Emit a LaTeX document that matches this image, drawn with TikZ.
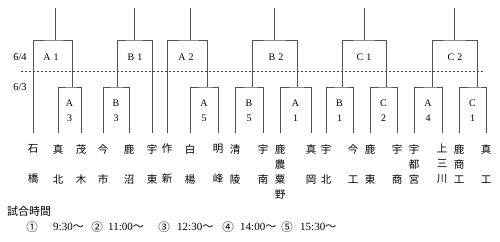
\documentclass[tikz,border=0pt]{standalone}
\usepackage{fontspec}
\setmainfont{Liberation Serif}
\newfontfamily\jp{Noto Sans CJK JP}
\newcommand\leafnode[3]{%
  \coordinate (#1) at (#2,133);
  \node[leaf] (#1n) at (#2,144) {#3};}
\begin{document}
\begin{tikzpicture}[x=1pt,y=-1pt,
  ln/.style={draw=black!68,line width=0.6pt},
  leaf/.style={anchor=north,inner sep=0pt,align=center,font=\jp\fontsize{10.5}{15}\selectfont},
  boxlab/.style={inner sep=0pt,align=center,font=\fontsize{10}{15}\selectfont},
  toplab/.style={inner sep=0pt,font=\fontsize{10}{12}\selectfont},
  datelab/.style={inner sep=0pt,font=\fontsize{10.5}{12}\selectfont},
  timetxt/.style={inner sep=0pt,anchor=west,font=\fontsize{11}{12}\selectfont},
  circnum/.style={inner sep=0pt,font=\jp\fontsize{11.5}{12}\selectfont}]
\useasboundingbox (0,0) rectangle (500,241);

% leaves
\leafnode{t1}{33}{石\\\mbox{}\\橋}
\leafnode{t2}{58}{真\\\mbox{}\\北}
\leafnode{t3}{81}{茂\\\mbox{}\\木}
\leafnode{t4}{103}{今\\\mbox{}\\市}
\leafnode{t5}{129}{鹿\\\mbox{}\\沼}
\leafnode{t6}{152}{宇\\\mbox{}\\東}
\leafnode{t7}{167}{作\\\mbox{}\\新}
\leafnode{t8}{190}{白\\\mbox{}\\楊}
\leafnode{t9}{218}{明\\\mbox{}\\峰}
\leafnode{t10}{235}{清\\\mbox{}\\陵}
\leafnode{t11}{263}{宇\\\mbox{}\\南}
\leafnode{t12}{280}{鹿\\農\\粟\\野}
\leafnode{t13}{311}{真\\\mbox{}\\岡}
\leafnode{t14}{326}{宇\\\mbox{}\\北}
\leafnode{t15}{353}{今\\\mbox{}\\工}
\leafnode{t16}{370}{鹿\\\mbox{}\\東}
\leafnode{t17}{397}{宇\\\mbox{}\\商}
\leafnode{t18}{414}{宇\\都\\宮}
\leafnode{t19}{442}{上\\三\\川}
\leafnode{t20}{459}{鹿\\商\\工}
\leafnode{t21}{486}{真\\\mbox{}\\工}

% first-round boxes: name/left/right/stem x/label x/letter/digit
\foreach \b/\l/\r/\s/\c/\L/\D in {
  bA3/t2/t3/72/69.5/A/3, bB3/t4/t5/117/116/B/3, bA5/t8/t9/207/204/A/5,
  bB5/t10/t11/252/249/B/5, bA1/t12/t13/297/295.5/A/1, bB1/t14/t15/342/339.5/B/1,
  bC2/t16/t17/386/383.5/C/2, bA4/t18/t19/432/428/A/4, bC1/t20/t21/477/472.5/C/1}{
  \coordinate (\b) at (\s,87);
  \draw[ln] (\l) |- (\b) -| (\r);
  \node[boxlab] (\b lab) at (\c,110.5) {\L\\\D};
}

% top brackets: name/left/right/stem x
\foreach \g/\l/\r/\s in {
  gA1/t1/bA3/55, gB1/bB3/t6/134, gA2/t7/bA5/190,
  gB2/bB5/bA1/274, gC1/bB1/bC2/364, gC2/bA4/bC1/454}{
  \coordinate (\g) at (\s,40);
  \coordinate (\g top) at (\s,8);
  \draw[ln] (\l) |- (\g) -| (\r);
  \draw[ln] (\g) -- (\g top);
}
\node[toplab] (lA1) at (51,57) {A\hspace{3pt}1};
\node[toplab] (lB1) at (135,57) {B\hspace{3pt}1};
\node[toplab] (lA2) at (186,57) {A\hspace{3pt}2};
\node[toplab] (lB2) at (276,57) {B\hspace{3pt}2};
\node[toplab] (lC1) at (364,57) {C\hspace{3pt}1};
\node[toplab] (lC2) at (455,57) {C\hspace{3pt}2};

% date line
\coordinate (dl) at (21,71);
\coordinate (dr) at (485,71);
\draw[draw=black!75,line width=0.6pt,dash pattern=on 2pt off 2pt] (dl) -- (dr);
\node[datelab] (d64) at (20,57) {6/4};
\node[datelab] (d63) at (20,87) {6/3};

% times
\node[inner sep=0pt,anchor=west,font=\jp\fontsize{11}{12}\selectfont] (title) at (7,211) {試合時間};
\node[circnum] (c1) at (32,227) {①};
\node[timetxt] (h1) at (53,227) {9:30{\jp ～}};
\node[circnum] (c2) at (97,227) {②};
\node[timetxt] (h2) at (108,227) {11:00{\jp ～}};
\node[circnum] (c3) at (164,227) {③};
\node[timetxt] (h3) at (177,227) {12:30{\jp ～}};
\node[circnum] (c4) at (228,227) {④};
\node[timetxt] (h4) at (240,227) {14:00{\jp ～}};
\node[circnum] (c5) at (287,227) {⑤};
\node[timetxt] (h5) at (300,227) {15:30{\jp ～}};
\end{tikzpicture}
\end{document}
